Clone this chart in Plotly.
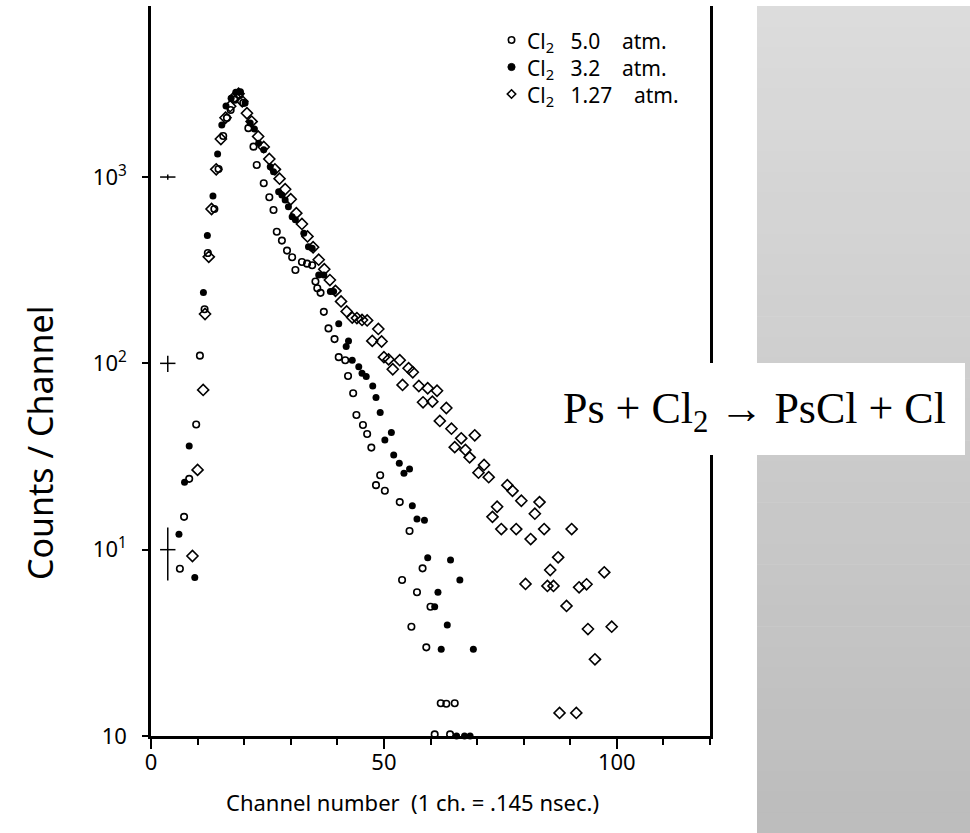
import plotly.graph_objects as go

# ---- data (channel number, counts/channel) ----
cl50_ch = [6.2, 7.1, 8.2, 9.7, 10.5, 11.5, 12.2, 13.6, 14.5, 15.5, 16.3, 17.1, 18.0, 19.0, 19.8,
           20.9, 22.0, 22.7, 24.2, 25.4, 26.3, 27.0, 28.1, 29.2, 30.3, 31.0, 32.4, 33.5, 34.6, 35.3,
           35.7, 36.4, 37.1, 38.1, 39.4, 40.3, 41.7, 42.3, 43.4, 44.1, 45.5, 46.4, 47.3, 48.3, 49.2,
           50.2, 53.4, 53.9, 55.5, 55.9, 57.1, 58.3, 59.1, 60.0, 60.9, 62.2, 63.4, 64.2, 65.2]
cl50_y = [7.9, 15.0, 24.0, 47, 110, 195, 391, 674, 1105, 1662, 2077, 2291, 2600, 2750, 2500,
          1830, 1456, 1161, 926, 779, 665, 509, 456, 403, 371, 317, 350, 343, 336, 275,
          253, 239, 189, 154, 135, 108, 104, 85.6, 69.1, 52.8, 46.7, 41.8, 35.3, 22.2, 25.1,
          20.7, 18.0, 6.88, 12.6, 3.86, 5.91, 7.94, 2.99, 4.94, 1.02, 1.5, 1.49, 1.02, 1.5]

cl32_ch = [6.0, 7.2, 8.2, 9.4, 11.25, 12.1, 13.3, 14.3, 15.2, 16.1, 17.2, 18.2, 19.2, 20.2, 21.3,
           22.2, 23.1, 24.2, 25.6, 26.3, 27.4, 28.1, 28.8, 29.5, 30.3, 31.0, 32.8, 33.8, 34.6,
           36.0, 37.1, 38.5, 39.2, 40.3, 41.9, 42.4, 43.2, 44.6, 45.3, 46.2, 47.6, 48.3, 49.2,
           50.2, 51.6, 52.1, 53.3, 54.3, 55.5, 56.1, 57.1, 58.7, 59.4, 60.9, 61.6, 62.3, 63.6,
           64.3, 65.6, 66.3, 67.3, 68.5, 69.2]
cl32_y = [12.1, 23.0, 36, 7.1, 240, 485, 792, 1331, 1905, 2409, 2650, 2850, 2870, 2500, 1950,
          1811, 1518, 1399, 1137, 1069, 835, 802, 754, 693, 613, 589, 499, 423, 415,
          298, 298, 243, 243, 163, 123, 132, 104, 96, 88.4, 84.9, 75.7, 65.5, 54.4,
          38.8, 42.5, 32.2, 29.1, 25.7, 27.1, 17.2, 14.6, 14.4, 9.06, 4.94, 5.91, 2.92, 3.94,
          8.81, 1.0, 6.88, 1.0, 1.0, 2.92]

cl127_ch = [8.9, 10.0, 11.2, 11.6, 12.4, 13.0, 14.0, 15.0, 16.0, 17.0, 18.0, 18.8, 19.6, 20.6,
            21.6, 23.0, 24.2, 25.4, 26.6, 27.6, 28.8, 30.0, 31.2, 32.4, 33.6, 34.8, 36.0, 37.2,
            38.4, 39.6, 40.8, 42.0, 43.2, 44.2, 45.3, 46.4, 47.5, 48.8, 49.5, 50.0, 51.0, 51.9,
            53.4, 54.0, 55.3, 56.2, 57.5, 58.4, 59.4, 60.4, 61.4, 62.0, 63.4, 64.5, 65.2, 66.6,
            67.5, 68.4, 69.5, 70.3, 71.5, 72.5, 73.3, 74.3, 75.2, 76.5, 77.6, 78.4, 79.5, 80.4,
            81.5, 82.4, 83.4, 84.4, 85.1, 85.7, 86.4, 87.4, 87.7, 89.2, 90.3, 91.3, 91.9, 93.5,
            93.8, 95.3, 97.3, 98.9]
cl127_y = [9.25, 26.8, 72, 184, 373, 674, 1100, 1600, 2080, 2400, 2700, 2800, 2550, 2200,
           1985, 1650, 1450, 1250, 1100, 980, 860, 760, 640, 560, 480, 420, 360, 320,
           280, 245, 215, 190, 176, 175, 171, 170, 132, 153, 131, 108, 105, 93,
           104, 76.6, 94.2, 89.6, 75.6, 61.8, 73.5, 62.3, 71.3, 49.1, 57.6, 44.6, 35.5, 39.6,
           34.3, 31.3, 41.1, 25.9, 28.5, 24.5, 15.0, 17.0, 12.9, 22.2, 20.7, 12.9, 18.3, 6.55,
           11.4, 15.6, 18.0, 12.9, 6.39, 7.78, 6.39, 9.1, 1.33, 4.99, 12.9, 1.33, 6.28, 6.52,
           3.75, 2.58, 7.56, 3.86]

# statistical error reference marks (+/- sqrt(N))
err_ch = [3.6, 3.6, 3.6]
err_y = [1000, 100, 10]
err_size = [31.6, 10.0, 3.16]

legend_names = ["Cl<sub>2</sub>   5.0    atm.", "Cl<sub>2</sub>   3.2    atm.", "Cl<sub>2</sub>   1.27    atm."]
x_ticks = [0, 50, 100]
y_ticks = [1, 10, 100, 1000]
y_ticktext = ["10", "10<sup>1</sup>", "10<sup>2</sup>", "10<sup>3</sup>"]

FONT = "Noto Sans"
fig = go.Figure()
fig.add_trace(go.Scatter(x=cl50_ch, y=cl50_y, mode="markers", name="Cl2 5.0 atm.", cliponaxis=False,
                         marker=dict(symbol="circle-open", size=6.5, color="black", line=dict(width=1.6))))
fig.add_trace(go.Scatter(x=cl32_ch, y=cl32_y, mode="markers", name="Cl2 3.2 atm.", cliponaxis=False,
                         marker=dict(symbol="circle", size=7, color="black")))
fig.add_trace(go.Scatter(x=cl127_ch, y=cl127_y, mode="markers", name="Cl2 1.27 atm.", cliponaxis=False,
                         marker=dict(symbol="diamond-open", size=8.5, color="black", line=dict(width=1.6))))
fig.add_trace(go.Scatter(x=err_ch, y=err_y, mode="markers", showlegend=False, cliponaxis=False,
                         marker=dict(symbol="line-ew-open", size=11, color="black", line=dict(width=1.5)),
                         error_y=dict(type="data", array=err_size, visible=True, color="black",
                                      thickness=1.5, width=0)))

L, R, T, B = 151, 260, 6, 97
W, H = 970, 833
pw, ph = W - L - R, H - T - B

def px(xp):
    return (xp - L) / pw

def py(yp):
    return (H - B - yp) / ph

# gray gradient panel
n = 40
y_top, y_bot = 6, 833
for i in range(n):
    y0 = y_top + (y_bot - y_top) * i / n
    y1 = y_top + (y_bot - y_top) * (i + 1) / n + 0.6
    c = int(220 - (220 - 189) * i / (n - 1))
    fig.add_shape(type="rect", xref="paper", yref="paper", x0=px(757), x1=px(972),
                  y0=py(y1), y1=py(y0), line_width=0, fillcolor=f"rgb({c},{c},{c})", layer="below")
# white equation box
fig.add_shape(type="rect", xref="paper", yref="paper", x0=px(525), x1=px(965), y0=py(455), y1=py(363),
              line_width=0, fillcolor="white", layer="above")
fig.add_annotation(xref="paper", yref="paper", x=px(754), y=py(411), xanchor="center", yanchor="middle",
                   text="Ps + Cl<sub>2</sub> \u2192 PsCl + Cl", showarrow=False,
                   font=dict(family="Liberation Serif", size=44, color="black"))

# hand-lettered legend (inside the frame, top right)
leg_y = [40, 67, 94]
leg_glyph = [
    dict(type="circle", x0=-3.2, x1=3.2, y0=-3.2, y1=3.2, line=dict(color="black", width=1.6), fillcolor="white"),
    dict(type="circle", x0=-3.6, x1=3.6, y0=-3.6, y1=3.6, line=dict(color="black", width=1), fillcolor="black"),
    dict(type="path", path="M 0 4.2 L 4.2 0 L 0 -4.2 L -4.2 0 Z", line=dict(color="black", width=1.6),
         fillcolor="white"),
]
for yy, g, name in zip(leg_y, leg_glyph, legend_names):
    fig.add_shape(xref="paper", yref="paper", xsizemode="pixel", ysizemode="pixel",
                  xanchor=px(511.5), yanchor=py(yy), layer="above", **g)
    fig.add_annotation(xref="paper", yref="paper", x=px(526), y=py(yy + 2), xanchor="left", yanchor="middle",
                       text=name, showarrow=False, borderpad=0,
                       font=dict(family=FONT, size=21, color="black"))

# axis titles
fig.add_annotation(xref="paper", yref="paper", x=px(412), y=py(802), xanchor="center", yanchor="middle",
                   text="Channel number  (1 ch. = .145 nsec.)", showarrow=False,
                   font=dict(family=FONT, size=22, color="black"))
fig.add_annotation(xref="paper", yref="paper", x=px(40), y=py(443), xanchor="center", yanchor="middle",
                   text="Counts / Channel", textangle=-90, showarrow=False,
                   font=dict(family=FONT, size=34, color="black"))

fig.update_layout(
    width=W, height=H, margin=dict(l=L, r=R, t=T, b=B),
    paper_bgcolor="white", plot_bgcolor="white",
    font=dict(family=FONT, color="black", size=20),
    showlegend=False,
)
fig.update_xaxes(range=[0, 120], showline=True, linewidth=2.5, linecolor="black", mirror=False,
                 showgrid=False, zeroline=False, ticks="outside", tickvals=x_ticks, ticklen=10,
                 tickwidth=2, tickcolor="black", tickfont=dict(size=22), ticklabelstandoff=-5,
                 minor=dict(dtick=10, ticks="outside", ticklen=6, tickwidth=1.5, tickcolor="black"))
fig.update_yaxes(type="log", range=[0, 3.918], showline=True, linewidth=2.5, linecolor="black", mirror=True,
                 showgrid=False, zeroline=False, ticks="outside", tickvals=y_ticks, ticktext=y_ticktext,
                 ticklen=6, tickwidth=2, tickcolor="black", tickfont=dict(size=22), ticklabelstandoff=11)

fig.write_html("out.html")
